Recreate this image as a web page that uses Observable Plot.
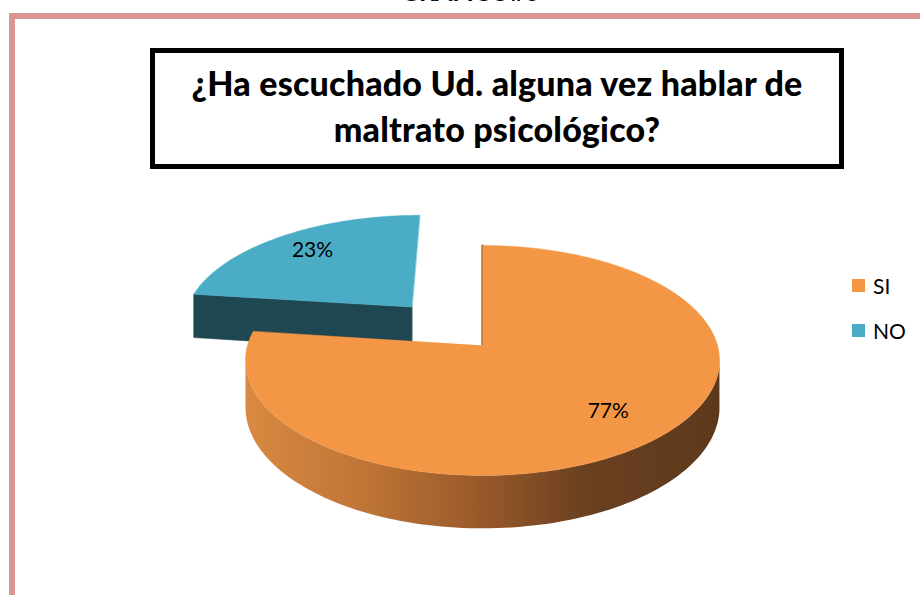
<!DOCTYPE html>
<html><head><meta charset="utf-8">
<script src="https://cdn.jsdelivr.net/npm/d3@7"></script>
<script src="https://cdn.jsdelivr.net/npm/@observablehq/plot@0.6"></script>
<style>
body{margin:0;background:#fff;}
#wrap{position:relative;width:920px;height:595px;overflow:hidden;font-family:Lato,"Open Sans",sans-serif;background:#fff;}
#supra{position:absolute;left:0;width:940px;top:-21px;text-align:center;font-weight:bold;font-size:25px;line-height:25px;color:#000;}
#bordTop{position:absolute;left:9px;top:13px;width:911px;height:6px;background:#d99694;}
#bordLeft{position:absolute;left:9px;top:13px;width:6px;height:582px;background:#d99694;}
#chart{position:absolute;left:0;top:0;}
#title{position:absolute;left:150px;top:48px;width:694px;height:121px;box-sizing:border-box;border:5px solid #000;background:#fff;
 text-align:center;font-weight:900;font-size:34px;line-height:46px;padding-top:7px;color:#000;letter-spacing:0.2px;}
.leg{position:absolute;left:852px;height:20px;font-size:21px;line-height:20px;color:#000;}
.leg span.sw{position:absolute;left:0;top:3px;width:13px;height:13px;}
.leg span.tx{position:absolute;left:21px;top:0;}
</style></head><body>
<div id="wrap">
 <div id="supra">GRAFICO#6</div>
 <div id="bordTop"></div><div id="bordLeft"></div>
 <div id="chart"></div>
 <div id="title">¿Ha escuchado Ud. alguna vez hablar de<br>maltrato psicológico?</div>
 <div id="legend"></div>
</div>
<script>
// ---- data ----
const categories = ["SI", "NO"];
const values = [77, 23];
const labels = ["77%", "23%"];
const topColors = ["#f39646", "#4bacc6"];
const cutColors = ["#7a4a22", "#1f4751"];
const explode = [0, 0.475];

// ---- 3D pie geometry (perspective ellipse) ----
const G = {cx: 482, cy: 345, rx: 235, ry: 113, k: 0.1304, depth: 46, labelR: 0.75};
function proj(u, v, z) {
  const w = 1 + G.k * v;
  return {x: G.cx + G.rx * u / w, y: G.cy + (-G.ry * v + z) / w};
}
const arcs = d3.pie().sort(null).value(d => d)(values);
const N = 240;
function area(pts) {
  let s = 0;
  for (let i = 0; i < pts.length; i++) {
    const a = pts[i], b = pts[(i + 1) % pts.length];
    s += a.x * b.y - b.x * a.y;
  }
  return s / 2;
}
const slices = arcs.map((a, i) => {
  const mid = (a.startAngle + a.endAngle) / 2;
  const ou = explode[i] * Math.sin(mid), ov = explode[i] * Math.cos(mid);
  const P = (t, r, z) => proj(ou + r * Math.sin(t), ov + r * Math.cos(t), z);
  const n = Math.max(8, Math.round(N * (a.endAngle - a.startAngle) / (2 * Math.PI)));
  const ts = d3.range(n + 1).map(j => a.startAngle + (a.endAngle - a.startAngle) * j / n);
  const top = [P(0, 0, 0), ...ts.map(t => P(t, 1, 0))].map(p => ({...p, id: i}));
  // walls: visible where projected rim moves leftwards (front side)
  const walls = [];
  let seg = [];
  ts.forEach((t, j) => {
    const dx = P(t + 1e-4, 1, 0).x - P(t - 1e-4, 1, 0).x;
    if (dx < 0) seg.push(t); else { if (seg.length > 1) walls.push(seg); seg = []; }
  });
  if (seg.length > 1) walls.push(seg);
  const wallPolys = walls.map((s, w) => [
    ...s.map(t => P(t, 1, 0)), ...s.slice().reverse().map(t => P(t, 1, G.depth))
  ].map(p => ({...p, id: i + "-" + w})));
  // cut faces
  const faces = [];
  [[a.startAngle, -1], [a.endAngle, 1]].forEach(([t, sgn], f) => {
    const poly = [P(0, 0, 0), P(t, 1, 0), P(t, 1, G.depth), P(0, 0, G.depth)];
    if (sgn * area(poly) > 2000) faces.push(poly.map(p => ({...p, id: i + "f" + f})));
  });
  const edge = [P(a.startAngle, 0, 0), P(a.startAngle, 1, 0)];
  const lab = {...P(mid, G.labelR, 0), text: labels[i]};
  return {top, wallPolys, faces, edge, lab, ov};
});
// painter's order: back slices first
const order = d3.range(slices.length).sort((a, b) => slices[b].ov - slices[a].ov);
const marks = [];
const wallXs = [];
order.forEach(i => {
  const s = slices[i];
  s.faces.forEach(f => marks.push(Plot.line(f, {x: "x", y: "y", fill: cutColors[i], stroke: cutColors[i], strokeWidth: 0.5, curve: "linear-closed"})));
  s.wallPolys.forEach(w => {
    wallXs.push(...w.map(p => p.x));
    marks.push(Plot.line(w, {x: "x", y: "y", fill: "url(#sideGrad" + i + ")", stroke: "none", curve: "linear-closed"}));
  });
  if (i === 0) marks.push(Plot.line(s.edge, {x: "x", y: "y", stroke: "#5d391b", strokeWidth: 2}));
  marks.push(Plot.line(s.top, {x: "x", y: "y", fill: topColors[i], stroke: topColors[i], strokeWidth: 0.5, curve: "linear-closed"}));
});
marks.push(Plot.text(slices.map(s => s.lab), {x: "x", y: "y", dy: -3, text: "text", fontSize: 21, fill: "#000"}));

const plot = Plot.plot({
  width: 920, height: 595, margin: 0,
  x: {domain: [0, 920], range: [0, 920], axis: null},
  y: {domain: [0, 595], range: [0, 595], axis: null},
  style: {background: "transparent", fontFamily: "Lato, 'Open Sans', sans-serif"},
  marks
});
const defs = d3.select(plot).insert("defs", ":first-child");
const gx0 = d3.min(wallXs), gx1 = d3.max(wallXs);
const g = defs.append("linearGradient").attr("id", "sideGrad0")
  .attr("gradientUnits", "userSpaceOnUse").attr("x1", gx0).attr("x2", gx1).attr("y1", 0).attr("y2", 0);
[[0, "#d98a42"], [0.25, "#bf7536"], [0.5, "#98592a"], [0.72, "#6a4020"], [1, "#5d391b"]]
  .forEach(([o, c]) => g.append("stop").attr("offset", o).attr("stop-color", c));
const g1 = defs.append("linearGradient").attr("id", "sideGrad1")
  .attr("gradientUnits", "userSpaceOnUse").attr("x1", gx0).attr("x2", gx1).attr("y1", 0).attr("y2", 0);
[[0, "#2a5f6e"], [1, "#163840"]].forEach(([o, c]) => g1.append("stop").attr("offset", o).attr("stop-color", c));
document.getElementById("chart").appendChild(plot);

// legend
const legTops = [276, 321];
const leg = document.getElementById("legend");
categories.forEach((c, i) => {
  const d = document.createElement("div");
  d.className = "leg";
  d.style.top = legTops[i] + "px";
  d.innerHTML = `<span class="sw" style="background:${topColors[i]}"></span><span class="tx">${c}</span>`;
  leg.appendChild(d);
});
</script>
</body></html>
